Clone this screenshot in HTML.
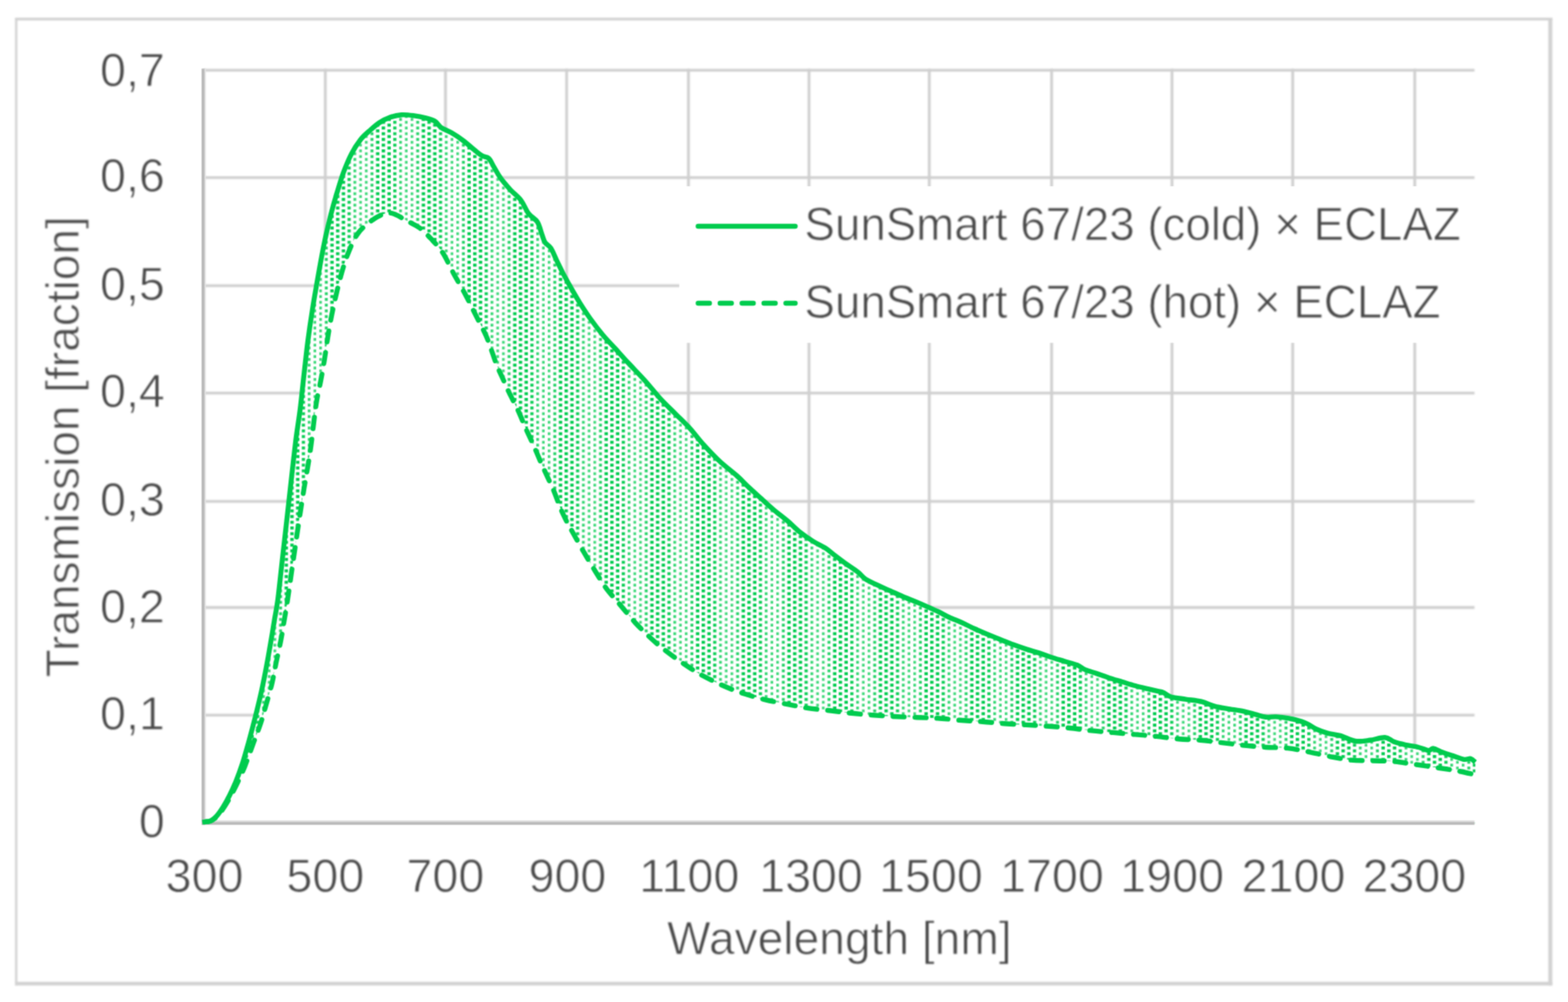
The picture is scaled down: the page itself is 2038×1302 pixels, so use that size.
<!DOCTYPE html>
<html lang="en"><head><meta charset="utf-8"><title>Transmission vs wavelength</title>
<style>
html,body{margin:0;padding:0;background:#fff;}
body{width:2038px;height:1302px;overflow:hidden;}
svg{display:block;font-family:"Liberation Sans",sans-serif;font-size:60.6px;fill:#484848;}
text{stroke:#fff;stroke-width:1.0px;stroke-linejoin:round;}
</style></head><body>
<svg width="2038" height="1302" viewBox="0 0 2038 1302">
<defs>
<filter id="soft" x="0" y="0" width="100%" height="100%" filterUnits="userSpaceOnUse" color-interpolation-filters="sRGB"><feGaussianBlur stdDeviation="0.9"/></filter>
<filter id="conv" x="0" y="0" width="100%" height="100%" filterUnits="userSpaceOnUse" color-interpolation-filters="sRGB"><feConvolveMatrix order="3" kernelMatrix="0.04000 0.12000 0.04000 0.12000 0.36000 0.12000 0.04000 0.12000 0.04000" edgeMode="duplicate" preserveAlpha="false"/></filter>
<pattern id="dots" x="12.0" y="0" width="59.400" height="7.425" patternUnits="userSpaceOnUse">
<rect x="0" y="0" width="59.400" height="7.425" fill="#fff"/>
<rect x="1.51" y="-2.67" width="4.40" height="3.90" fill="#00cc4e" fill-opacity="1.00"/>
<rect x="1.51" y="4.75" width="4.40" height="3.90" fill="#00cc4e" fill-opacity="1.00"/>
<rect x="8.94" y="1.04" width="4.40" height="3.90" fill="#00cc4e" fill-opacity="1.00"/>
<rect x="16.36" y="-2.67" width="4.40" height="3.90" fill="#00cc4e" fill-opacity="1.00"/>
<rect x="16.36" y="4.75" width="4.40" height="3.90" fill="#00cc4e" fill-opacity="1.00"/>
<rect x="23.90" y="1.07" width="4.17" height="3.84" fill="#00cc4e" fill-opacity="0.94"/>
<rect x="31.62" y="-2.56" width="3.58" height="3.68" fill="#00cc4e" fill-opacity="0.79"/>
<rect x="31.62" y="4.86" width="3.58" height="3.68" fill="#00cc4e" fill-opacity="0.79"/>
<rect x="39.12" y="1.17" width="3.42" height="3.64" fill="#00cc4e" fill-opacity="0.75"/>
<rect x="46.55" y="-2.54" width="3.42" height="3.64" fill="#00cc4e" fill-opacity="0.75"/>
<rect x="46.55" y="4.88" width="3.42" height="3.64" fill="#00cc4e" fill-opacity="0.75"/>
<rect x="53.79" y="1.12" width="3.80" height="3.74" fill="#00cc4e" fill-opacity="0.85"/>
</pattern>
</defs>
<rect x="0" y="0" width="2038" height="1302" fill="#fff"/>
<g filter="url(#soft)">
<line x1="21.1" y1="23" x2="21.1" y2="1280.6" stroke="#d2d2d2" stroke-width="3.0"/>
<line x1="19.8" y1="24.8" x2="2017.6" y2="24.8" stroke="#d2d2d2" stroke-width="3.6"/>
<line x1="2015" y1="23" x2="2015" y2="1280.6" stroke="#d2d2d2" stroke-width="5.2"/>
<line x1="19.8" y1="1278.2" x2="2017.6" y2="1278.2" stroke="#d2d2d2" stroke-width="4.8"/>
<g stroke="#cfcfcf" stroke-width="3.6" fill="none">
<line x1="264.3" y1="929.2" x2="1916.5" y2="929.2"/>
<line x1="264.3" y1="789.4" x2="1916.5" y2="789.4"/>
<line x1="264.3" y1="651.5" x2="1916.5" y2="651.5"/>
<line x1="264.3" y1="510.8" x2="1916.5" y2="510.8"/>
<line x1="264.3" y1="371.2" x2="1916.5" y2="371.2"/>
<line x1="264.3" y1="230.8" x2="1916.5" y2="230.8"/>
<line x1="264.3" y1="91.3" x2="1916.5" y2="91.3"/>
<line x1="422.8" y1="89.3" x2="422.8" y2="1069.6"/>
<line x1="579.0" y1="89.3" x2="579.0" y2="1069.6"/>
<line x1="736.5" y1="89.3" x2="736.5" y2="1069.6"/>
<line x1="894.8" y1="89.3" x2="894.8" y2="1069.6"/>
<line x1="1051.5" y1="89.3" x2="1051.5" y2="1069.6"/>
<line x1="1207.8" y1="89.3" x2="1207.8" y2="1069.6"/>
<line x1="1366.8" y1="89.3" x2="1366.8" y2="1069.6"/>
<line x1="1523.3" y1="89.3" x2="1523.3" y2="1069.6"/>
<line x1="1680.2" y1="89.3" x2="1680.2" y2="1069.6"/>
<line x1="1838.8" y1="89.3" x2="1838.8" y2="1069.6"/>
</g>
</g>
<g filter="url(#conv)">
<path d="M263.0 1068.3C264.7 1068.0 270.3 1068.1 273.4 1066.8C276.5 1065.5 278.9 1063.2 281.7 1060.2C284.5 1057.2 287.3 1053.0 290.1 1048.5C292.9 1044.0 295.6 1039.1 298.4 1033.5C301.2 1027.9 303.9 1022.0 306.7 1015.1C309.5 1008.2 312.3 1000.6 315.1 992.0C317.9 983.4 320.6 973.5 323.4 963.5C326.2 953.5 329.0 942.9 331.8 931.8C334.6 920.7 337.6 908.4 340.1 897.0C342.6 885.6 344.9 873.7 346.8 863.4C348.8 853.1 350.1 844.8 351.8 835.1C353.5 825.4 355.3 814.2 356.8 805.0C358.3 795.8 359.3 792.8 361.0 780.0C362.7 767.2 364.7 746.8 366.8 728.5C368.9 710.2 371.5 687.3 373.4 670.1C375.3 652.9 376.6 641.2 378.4 625.1C380.2 609.0 382.4 588.8 384.3 573.3C386.2 557.8 388.3 546.4 390.1 532.0C391.9 517.6 393.4 501.6 395.1 486.8C396.8 472.1 398.3 457.4 400.1 443.5C401.9 429.6 403.9 415.9 405.9 403.4C407.8 390.9 409.9 379.3 411.8 368.4C413.7 357.5 415.3 348.2 417.2 338.0C419.1 327.8 421.2 316.8 423.4 306.9C425.5 297.0 427.7 287.7 430.1 278.5C432.5 269.3 434.8 261.0 437.6 251.8C440.4 242.6 443.5 232.0 446.7 223.4C449.9 214.8 453.1 207.1 456.7 200.1C460.3 193.1 464.5 186.7 468.4 181.7C472.3 176.7 475.9 173.8 480.1 170.1C484.3 166.3 488.9 162.1 493.4 159.2C497.8 156.3 502.1 154.2 506.8 152.5C511.5 150.8 516.5 149.5 521.8 149.2C527.1 148.8 533.2 149.7 538.5 150.4C543.8 151.1 549.0 152.2 553.5 153.4C558.0 154.6 561.9 155.4 565.2 157.5C568.5 159.6 569.9 163.4 573.5 165.9C577.1 168.4 582.2 169.8 586.9 172.6C591.6 175.4 596.9 178.8 601.9 182.6C606.9 186.3 612.7 191.8 616.9 195.1C621.1 198.4 623.8 200.8 626.9 202.6C630.0 204.4 632.8 203.5 635.3 205.9C637.8 208.3 639.4 212.6 641.9 216.8C644.4 221.0 646.7 225.9 650.3 230.9C653.9 235.9 659.1 241.9 663.6 246.8C668.1 251.7 673.1 255.0 677.0 260.1C680.9 265.2 683.4 272.8 687.0 277.5C690.6 282.2 695.6 283.9 698.5 288.4C701.4 292.9 702.6 299.9 704.3 304.3C705.9 308.7 706.4 311.9 708.4 315.0C710.4 318.1 713.5 318.7 716.0 322.6C718.5 326.5 720.9 333.0 723.5 338.4C726.1 343.8 728.8 349.3 731.8 355.1C734.8 360.9 738.2 367.0 741.8 373.4C745.4 379.8 749.3 386.7 753.5 393.4C757.7 400.1 761.8 406.5 766.8 413.5C771.8 420.5 777.9 428.5 783.5 435.2C789.1 441.9 794.7 447.4 800.2 453.5C805.7 459.6 810.2 464.7 816.5 471.5C822.8 478.3 831.0 486.5 838.0 494.3C845.0 502.1 851.8 511.0 858.6 518.4C865.4 525.8 872.2 532.0 878.6 538.4C885.0 544.8 891.1 550.4 896.9 556.8C902.7 563.2 907.2 569.8 913.6 576.8C920.0 583.8 927.7 592.1 935.0 599.0C942.3 605.9 951.1 612.3 957.5 618.0C963.9 623.7 968.0 628.3 973.4 633.4C978.8 638.5 984.5 643.4 990.0 648.4C995.5 653.4 1001.1 658.7 1006.7 663.4C1012.3 668.1 1017.8 672.1 1023.4 676.8C1029.0 681.5 1034.5 687.4 1040.1 691.8C1045.7 696.2 1051.2 699.9 1056.8 703.4C1062.4 706.9 1068.8 709.5 1073.5 712.6C1078.2 715.7 1080.9 718.6 1085.1 721.8C1089.3 725.0 1093.5 728.2 1098.5 731.8C1103.5 735.4 1110.8 740.0 1115.2 743.5C1119.7 747.0 1121.0 749.9 1125.2 752.7C1129.4 755.5 1134.9 757.7 1140.2 760.2C1145.5 762.7 1151.3 765.2 1156.9 767.7C1162.5 770.2 1168.0 772.8 1173.6 775.2C1179.2 777.6 1185.3 779.8 1190.3 781.9C1195.3 784.0 1198.5 785.4 1203.5 787.6C1208.5 789.8 1215.0 792.6 1220.0 795.0C1225.0 797.4 1228.4 799.7 1233.4 802.0C1238.4 804.3 1244.5 806.5 1250.1 809.0C1255.6 811.5 1261.2 814.5 1266.7 817.0C1272.2 819.5 1277.8 821.9 1283.4 824.2C1289.0 826.5 1294.5 828.7 1300.1 830.9C1305.7 833.1 1311.2 835.5 1316.8 837.6C1322.4 839.7 1327.9 841.6 1333.5 843.4C1339.1 845.2 1344.7 846.6 1350.2 848.4C1355.8 850.2 1361.2 852.5 1366.8 854.3C1372.3 856.1 1377.9 857.6 1383.5 859.3C1389.1 861.0 1395.8 862.5 1400.2 864.3C1404.7 866.1 1406.0 868.3 1410.2 870.1C1414.4 871.9 1419.9 873.3 1425.2 875.1C1430.5 876.9 1436.3 879.2 1441.9 881.0C1447.5 882.8 1453.0 884.3 1458.6 886.0C1464.2 887.7 1469.7 889.5 1475.3 891.0C1480.9 892.5 1487.0 893.9 1492.0 895.1C1497.0 896.3 1501.7 897.4 1505.0 898.2C1508.3 899.0 1509.2 898.8 1512.0 900.0C1514.8 901.2 1517.2 904.1 1522.0 905.5C1526.8 906.9 1534.4 907.6 1541.0 908.6C1547.6 909.6 1555.5 910.2 1561.7 911.7C1567.9 913.2 1572.8 916.1 1578.4 917.6C1584.0 919.1 1588.7 919.8 1595.1 920.9C1601.5 922.0 1610.7 923.0 1616.8 924.3C1622.9 925.5 1627.1 927.1 1631.8 928.4C1636.5 929.6 1640.6 931.3 1645.1 931.8C1649.5 932.3 1653.5 931.1 1658.5 931.4C1663.5 931.7 1669.6 932.4 1675.2 933.4C1680.8 934.4 1687.8 936.3 1691.9 937.6C1696.0 938.9 1696.8 939.4 1700.0 941.0C1703.2 942.6 1706.8 945.6 1711.0 947.5C1715.2 949.4 1720.0 951.2 1725.2 952.6C1730.4 954.0 1735.9 954.2 1741.9 955.9C1748.0 957.6 1755.0 962.0 1761.5 963.0C1768.0 964.0 1774.4 962.6 1780.8 961.8C1787.2 961.0 1794.8 957.9 1800.0 958.2C1805.2 958.5 1807.3 962.2 1811.7 963.8C1816.1 965.4 1821.5 966.7 1826.5 967.8C1831.5 968.9 1837.0 969.3 1842.0 970.5C1847.0 971.7 1853.0 974.8 1856.5 975.1C1860.0 975.5 1860.2 972.2 1863.2 972.6C1866.2 973.0 1870.3 975.9 1874.8 977.6C1879.2 979.3 1885.2 981.1 1889.9 982.6C1894.6 984.1 1899.6 986.2 1903.2 986.8C1906.8 987.3 1909.1 985.3 1911.5 985.9C1913.9 986.5 1916.5 989.7 1917.5 990.5L1917.5 1069.6L264.3 1069.6Z" fill="url(#dots)"/>
<path d="M263.0 1068.3C264.8 1068.1 270.4 1068.2 273.6 1066.9C276.8 1065.6 279.4 1063.6 282.4 1060.6C285.4 1057.6 288.4 1053.3 291.4 1048.8C294.4 1044.3 297.4 1039.1 300.4 1033.5C303.4 1027.9 306.6 1021.5 309.6 1015.1C312.6 1008.7 315.0 1003.8 318.4 995.2C321.8 986.6 326.8 972.5 330.1 963.5C333.4 954.5 335.9 948.5 338.4 941.0C340.9 933.5 342.6 927.3 345.1 918.5C347.6 909.7 351.2 897.6 353.4 888.4C355.6 879.2 356.4 873.0 358.4 863.5C360.3 854.0 363.3 841.2 365.1 831.7C366.9 822.2 367.9 815.2 369.3 806.7C370.7 798.2 371.4 794.9 373.5 781.0C375.6 767.1 379.3 740.6 381.8 723.5C384.3 706.4 386.2 693.1 388.4 678.4C390.6 663.7 393.2 647.2 395.1 635.1C397.1 623.0 398.6 615.5 400.1 606.0C401.6 596.5 402.5 591.8 404.3 578.3C406.1 564.8 408.8 539.1 410.9 525.2C413.0 511.4 415.0 504.9 416.8 495.2C418.6 485.5 420.3 476.2 421.8 466.8C423.3 457.4 424.5 447.9 426.0 438.5C427.5 429.1 429.2 419.3 431.0 410.1C432.8 400.9 434.7 392.3 436.8 383.4C438.9 374.5 440.9 365.8 443.5 356.7C446.1 347.6 448.9 337.9 452.5 329.0C456.1 320.1 459.7 310.8 465.1 303.5C470.5 296.2 478.2 289.6 485.1 285.2C492.1 280.8 499.3 276.4 506.8 276.8C514.3 277.2 523.7 284.5 530.1 287.7C536.5 290.9 540.2 292.2 545.2 296.0C550.2 299.8 555.2 304.8 560.2 310.2C565.2 315.6 570.5 320.8 575.5 328.5C580.5 336.2 585.3 347.6 590.3 356.7C595.3 365.8 600.6 374.5 605.3 383.4C610.0 392.3 614.2 401.2 618.7 410.1C623.2 419.0 628.5 428.7 632.0 436.8C635.5 444.9 637.7 452.1 640.0 458.5C642.3 464.9 643.7 469.5 645.9 475.0C648.1 480.5 650.8 485.9 653.4 491.7C656.0 497.5 658.4 503.1 661.7 510.0C665.0 517.0 669.8 525.6 673.4 533.4C677.0 541.2 680.1 549.3 683.4 556.8C686.7 564.3 690.1 570.9 693.4 578.4C696.7 585.9 700.3 594.8 703.4 601.8C706.5 608.8 709.0 614.1 711.8 620.2C714.6 626.3 717.3 631.8 720.1 638.5C722.9 645.2 725.7 653.7 728.4 660.2C731.1 666.7 734.0 672.5 736.5 677.5C739.0 682.5 739.8 683.5 743.4 690.0C747.0 696.5 753.4 708.1 758.4 716.7C763.4 725.3 768.4 733.6 773.4 741.7C778.4 749.8 782.8 757.6 788.4 765.1C794.0 772.6 800.7 779.6 806.8 786.8C812.9 794.0 818.7 801.5 825.1 808.5C831.5 815.5 838.2 822.1 845.1 828.5C852.0 834.9 859.3 841.0 866.8 846.8C874.3 852.6 882.6 858.4 890.2 863.5C897.8 868.6 903.9 872.8 912.5 877.5C921.1 882.2 932.4 887.8 941.7 891.8C951.0 895.8 959.5 898.9 968.4 901.8C977.3 904.7 985.9 907.1 995.1 909.3C1004.3 911.5 1014.3 913.3 1023.5 915.1C1032.7 916.9 1040.8 918.7 1050.2 920.1C1059.7 921.5 1070.8 922.4 1080.2 923.5C1089.7 924.6 1097.7 925.8 1106.9 926.8C1116.1 927.8 1126.0 928.6 1135.2 929.3C1144.4 930.0 1152.4 930.5 1161.9 931.0C1171.4 931.5 1182.5 931.8 1192.0 932.2C1201.5 932.6 1208.9 932.7 1218.6 933.3C1228.3 933.9 1240.3 935.3 1250.0 936.0C1259.7 936.7 1267.5 937.0 1276.7 937.7C1285.9 938.4 1295.6 939.5 1305.1 940.2C1314.6 940.9 1324.3 941.4 1333.5 941.9C1342.7 942.4 1350.8 942.8 1360.2 943.5C1369.7 944.2 1380.5 945.0 1390.2 946.0C1399.9 947.0 1409.1 948.4 1418.6 949.4C1428.0 950.4 1437.5 951.1 1446.9 951.9C1456.4 952.7 1465.8 953.6 1475.3 954.4C1484.8 955.2 1494.1 955.9 1503.6 956.9C1513.0 957.9 1522.6 959.4 1532.0 960.2C1541.4 961.0 1550.6 961.0 1560.0 961.8C1569.4 962.6 1578.9 964.0 1588.4 965.1C1597.9 966.2 1607.3 967.5 1616.8 968.5C1626.2 969.5 1635.6 970.4 1645.1 971.0C1654.5 971.6 1664.3 971.1 1673.5 972.1C1682.7 973.1 1691.3 975.0 1700.2 976.8C1709.1 978.5 1717.7 980.8 1726.9 982.6C1736.1 984.4 1745.8 986.6 1755.3 987.6C1764.8 988.6 1774.4 988.2 1783.6 988.5C1792.8 988.8 1801.7 988.6 1810.3 989.3C1818.9 990.0 1825.6 991.3 1835.3 992.7C1845.0 994.1 1858.3 996.1 1868.2 997.6C1878.1 999.1 1886.7 1000.3 1894.9 1001.8C1903.1 1003.3 1913.7 1006.0 1917.5 1006.8L1922.5 1006.8L1922.5 1069.6L264.3 1069.6Z" fill="#fff"/>
<rect x="882.8" y="242" width="1045" height="203.5" fill="#fff"/>
<line x1="266.1" y1="89.3" x2="266.1" y2="1071.6" stroke="#e2e2e2" stroke-width="3"/>
<line x1="262.3" y1="1067.4" x2="1916.5" y2="1067.4" stroke="#dedede" stroke-width="3"/>
<line x1="263.9" y1="89.3" x2="263.9" y2="1071.8" stroke="#b9b9b9" stroke-width="3.7"/>
<line x1="262.1" y1="1070.0" x2="1916.5" y2="1070.0" stroke="#b9b9b9" stroke-width="3.7"/>
<path d="M266.4 1067.9C267.6 1067.7 270.9 1068.1 273.6 1066.9C276.3 1065.7 279.4 1063.6 282.4 1060.6C285.4 1057.6 288.4 1053.3 291.4 1048.8C294.4 1044.3 297.4 1039.1 300.4 1033.5C303.4 1027.9 306.6 1021.5 309.6 1015.1C312.6 1008.7 315.0 1003.8 318.4 995.2C321.8 986.6 326.8 972.5 330.1 963.5C333.4 954.5 335.9 948.5 338.4 941.0C340.9 933.5 342.6 927.3 345.1 918.5C347.6 909.7 351.2 897.6 353.4 888.4C355.6 879.2 356.4 873.0 358.4 863.5C360.3 854.0 363.3 841.2 365.1 831.7C366.9 822.2 367.9 815.2 369.3 806.7C370.7 798.2 371.4 794.9 373.5 781.0C375.6 767.1 379.3 740.6 381.8 723.5C384.3 706.4 386.2 693.1 388.4 678.4C390.6 663.7 393.2 647.2 395.1 635.1C397.1 623.0 398.6 615.5 400.1 606.0C401.6 596.5 402.5 591.8 404.3 578.3C406.1 564.8 408.8 539.1 410.9 525.2C413.0 511.4 415.0 504.9 416.8 495.2C418.6 485.5 420.3 476.2 421.8 466.8C423.3 457.4 424.5 447.9 426.0 438.5C427.5 429.1 429.2 419.3 431.0 410.1C432.8 400.9 434.7 392.3 436.8 383.4C438.9 374.5 440.9 365.8 443.5 356.7C446.1 347.6 448.9 337.9 452.5 329.0C456.1 320.1 459.7 310.8 465.1 303.5C470.5 296.2 478.2 289.6 485.1 285.2C492.1 280.8 499.3 276.4 506.8 276.8C514.3 277.2 523.7 284.5 530.1 287.7C536.5 290.9 540.2 292.2 545.2 296.0C550.2 299.8 555.2 304.8 560.2 310.2C565.2 315.6 570.5 320.8 575.5 328.5C580.5 336.2 585.3 347.6 590.3 356.7C595.3 365.8 600.6 374.5 605.3 383.4C610.0 392.3 614.2 401.2 618.7 410.1C623.2 419.0 628.5 428.7 632.0 436.8C635.5 444.9 637.7 452.1 640.0 458.5C642.3 464.9 643.7 469.5 645.9 475.0C648.1 480.5 650.8 485.9 653.4 491.7C656.0 497.5 658.4 503.1 661.7 510.0C665.0 517.0 669.8 525.6 673.4 533.4C677.0 541.2 680.1 549.3 683.4 556.8C686.7 564.3 690.1 570.9 693.4 578.4C696.7 585.9 700.3 594.8 703.4 601.8C706.5 608.8 709.0 614.1 711.8 620.2C714.6 626.3 717.3 631.8 720.1 638.5C722.9 645.2 725.7 653.7 728.4 660.2C731.1 666.7 734.0 672.5 736.5 677.5C739.0 682.5 739.8 683.5 743.4 690.0C747.0 696.5 753.4 708.1 758.4 716.7C763.4 725.3 768.4 733.6 773.4 741.7C778.4 749.8 782.8 757.6 788.4 765.1C794.0 772.6 800.7 779.6 806.8 786.8C812.9 794.0 818.7 801.5 825.1 808.5C831.5 815.5 838.2 822.1 845.1 828.5C852.0 834.9 859.3 841.0 866.8 846.8C874.3 852.6 882.6 858.4 890.2 863.5C897.8 868.6 903.9 872.8 912.5 877.5C921.1 882.2 932.4 887.8 941.7 891.8C951.0 895.8 959.5 898.9 968.4 901.8C977.3 904.7 985.9 907.1 995.1 909.3C1004.3 911.5 1014.3 913.3 1023.5 915.1C1032.7 916.9 1040.8 918.7 1050.2 920.1C1059.7 921.5 1070.8 922.4 1080.2 923.5C1089.7 924.6 1097.7 925.8 1106.9 926.8C1116.1 927.8 1126.0 928.6 1135.2 929.3C1144.4 930.0 1152.4 930.5 1161.9 931.0C1171.4 931.5 1182.5 931.8 1192.0 932.2C1201.5 932.6 1208.9 932.7 1218.6 933.3C1228.3 933.9 1240.3 935.3 1250.0 936.0C1259.7 936.7 1267.5 937.0 1276.7 937.7C1285.9 938.4 1295.6 939.5 1305.1 940.2C1314.6 940.9 1324.3 941.4 1333.5 941.9C1342.7 942.4 1350.8 942.8 1360.2 943.5C1369.7 944.2 1380.5 945.0 1390.2 946.0C1399.9 947.0 1409.1 948.4 1418.6 949.4C1428.0 950.4 1437.5 951.1 1446.9 951.9C1456.4 952.7 1465.8 953.6 1475.3 954.4C1484.8 955.2 1494.1 955.9 1503.6 956.9C1513.0 957.9 1522.6 959.4 1532.0 960.2C1541.4 961.0 1550.6 961.0 1560.0 961.8C1569.4 962.6 1578.9 964.0 1588.4 965.1C1597.9 966.2 1607.3 967.5 1616.8 968.5C1626.2 969.5 1635.6 970.4 1645.1 971.0C1654.5 971.6 1664.3 971.1 1673.5 972.1C1682.7 973.1 1691.3 975.0 1700.2 976.8C1709.1 978.5 1717.7 980.8 1726.9 982.6C1736.1 984.4 1745.8 986.6 1755.3 987.6C1764.8 988.6 1774.4 988.2 1783.6 988.5C1792.8 988.8 1801.7 988.6 1810.3 989.3C1818.9 990.0 1825.6 991.3 1835.3 992.7C1845.0 994.1 1858.3 996.1 1868.2 997.6C1878.1 999.1 1886.7 1000.3 1894.9 1001.8C1903.1 1003.3 1913.7 1006.0 1917.5 1006.8" fill="none" stroke="#00cc4e" stroke-width="6.4" stroke-dasharray="14.6 13.9" stroke-dashoffset="0" stroke-linecap="round" stroke-linejoin="round"/>
<path d="M263.0 1068.3C264.7 1068.0 270.3 1068.1 273.4 1066.8C276.5 1065.5 278.9 1063.2 281.7 1060.2C284.5 1057.2 287.3 1053.0 290.1 1048.5C292.9 1044.0 295.6 1039.1 298.4 1033.5C301.2 1027.9 303.9 1022.0 306.7 1015.1C309.5 1008.2 312.3 1000.6 315.1 992.0C317.9 983.4 320.6 973.5 323.4 963.5C326.2 953.5 329.0 942.9 331.8 931.8C334.6 920.7 337.6 908.4 340.1 897.0C342.6 885.6 344.9 873.7 346.8 863.4C348.8 853.1 350.1 844.8 351.8 835.1C353.5 825.4 355.3 814.2 356.8 805.0C358.3 795.8 359.3 792.8 361.0 780.0C362.7 767.2 364.7 746.8 366.8 728.5C368.9 710.2 371.5 687.3 373.4 670.1C375.3 652.9 376.6 641.2 378.4 625.1C380.2 609.0 382.4 588.8 384.3 573.3C386.2 557.8 388.3 546.4 390.1 532.0C391.9 517.6 393.4 501.6 395.1 486.8C396.8 472.1 398.3 457.4 400.1 443.5C401.9 429.6 403.9 415.9 405.9 403.4C407.8 390.9 409.9 379.3 411.8 368.4C413.7 357.5 415.3 348.2 417.2 338.0C419.1 327.8 421.2 316.8 423.4 306.9C425.5 297.0 427.7 287.7 430.1 278.5C432.5 269.3 434.8 261.0 437.6 251.8C440.4 242.6 443.5 232.0 446.7 223.4C449.9 214.8 453.1 207.1 456.7 200.1C460.3 193.1 464.5 186.7 468.4 181.7C472.3 176.7 475.9 173.8 480.1 170.1C484.3 166.3 488.9 162.1 493.4 159.2C497.8 156.3 502.1 154.2 506.8 152.5C511.5 150.8 516.5 149.5 521.8 149.2C527.1 148.8 533.2 149.7 538.5 150.4C543.8 151.1 549.0 152.2 553.5 153.4C558.0 154.6 561.9 155.4 565.2 157.5C568.5 159.6 569.9 163.4 573.5 165.9C577.1 168.4 582.2 169.8 586.9 172.6C591.6 175.4 596.9 178.8 601.9 182.6C606.9 186.3 612.7 191.8 616.9 195.1C621.1 198.4 623.8 200.8 626.9 202.6C630.0 204.4 632.8 203.5 635.3 205.9C637.8 208.3 639.4 212.6 641.9 216.8C644.4 221.0 646.7 225.9 650.3 230.9C653.9 235.9 659.1 241.9 663.6 246.8C668.1 251.7 673.1 255.0 677.0 260.1C680.9 265.2 683.4 272.8 687.0 277.5C690.6 282.2 695.6 283.9 698.5 288.4C701.4 292.9 702.6 299.9 704.3 304.3C705.9 308.7 706.4 311.9 708.4 315.0C710.4 318.1 713.5 318.7 716.0 322.6C718.5 326.5 720.9 333.0 723.5 338.4C726.1 343.8 728.8 349.3 731.8 355.1C734.8 360.9 738.2 367.0 741.8 373.4C745.4 379.8 749.3 386.7 753.5 393.4C757.7 400.1 761.8 406.5 766.8 413.5C771.8 420.5 777.9 428.5 783.5 435.2C789.1 441.9 794.7 447.4 800.2 453.5C805.7 459.6 810.2 464.7 816.5 471.5C822.8 478.3 831.0 486.5 838.0 494.3C845.0 502.1 851.8 511.0 858.6 518.4C865.4 525.8 872.2 532.0 878.6 538.4C885.0 544.8 891.1 550.4 896.9 556.8C902.7 563.2 907.2 569.8 913.6 576.8C920.0 583.8 927.7 592.1 935.0 599.0C942.3 605.9 951.1 612.3 957.5 618.0C963.9 623.7 968.0 628.3 973.4 633.4C978.8 638.5 984.5 643.4 990.0 648.4C995.5 653.4 1001.1 658.7 1006.7 663.4C1012.3 668.1 1017.8 672.1 1023.4 676.8C1029.0 681.5 1034.5 687.4 1040.1 691.8C1045.7 696.2 1051.2 699.9 1056.8 703.4C1062.4 706.9 1068.8 709.5 1073.5 712.6C1078.2 715.7 1080.9 718.6 1085.1 721.8C1089.3 725.0 1093.5 728.2 1098.5 731.8C1103.5 735.4 1110.8 740.0 1115.2 743.5C1119.7 747.0 1121.0 749.9 1125.2 752.7C1129.4 755.5 1134.9 757.7 1140.2 760.2C1145.5 762.7 1151.3 765.2 1156.9 767.7C1162.5 770.2 1168.0 772.8 1173.6 775.2C1179.2 777.6 1185.3 779.8 1190.3 781.9C1195.3 784.0 1198.5 785.4 1203.5 787.6C1208.5 789.8 1215.0 792.6 1220.0 795.0C1225.0 797.4 1228.4 799.7 1233.4 802.0C1238.4 804.3 1244.5 806.5 1250.1 809.0C1255.6 811.5 1261.2 814.5 1266.7 817.0C1272.2 819.5 1277.8 821.9 1283.4 824.2C1289.0 826.5 1294.5 828.7 1300.1 830.9C1305.7 833.1 1311.2 835.5 1316.8 837.6C1322.4 839.7 1327.9 841.6 1333.5 843.4C1339.1 845.2 1344.7 846.6 1350.2 848.4C1355.8 850.2 1361.2 852.5 1366.8 854.3C1372.3 856.1 1377.9 857.6 1383.5 859.3C1389.1 861.0 1395.8 862.5 1400.2 864.3C1404.7 866.1 1406.0 868.3 1410.2 870.1C1414.4 871.9 1419.9 873.3 1425.2 875.1C1430.5 876.9 1436.3 879.2 1441.9 881.0C1447.5 882.8 1453.0 884.3 1458.6 886.0C1464.2 887.7 1469.7 889.5 1475.3 891.0C1480.9 892.5 1487.0 893.9 1492.0 895.1C1497.0 896.3 1501.7 897.4 1505.0 898.2C1508.3 899.0 1509.2 898.8 1512.0 900.0C1514.8 901.2 1517.2 904.1 1522.0 905.5C1526.8 906.9 1534.4 907.6 1541.0 908.6C1547.6 909.6 1555.5 910.2 1561.7 911.7C1567.9 913.2 1572.8 916.1 1578.4 917.6C1584.0 919.1 1588.7 919.8 1595.1 920.9C1601.5 922.0 1610.7 923.0 1616.8 924.3C1622.9 925.5 1627.1 927.1 1631.8 928.4C1636.5 929.6 1640.6 931.3 1645.1 931.8C1649.5 932.3 1653.5 931.1 1658.5 931.4C1663.5 931.7 1669.6 932.4 1675.2 933.4C1680.8 934.4 1687.8 936.3 1691.9 937.6C1696.0 938.9 1696.8 939.4 1700.0 941.0C1703.2 942.6 1706.8 945.6 1711.0 947.5C1715.2 949.4 1720.0 951.2 1725.2 952.6C1730.4 954.0 1735.9 954.2 1741.9 955.9C1748.0 957.6 1755.0 962.0 1761.5 963.0C1768.0 964.0 1774.4 962.6 1780.8 961.8C1787.2 961.0 1794.8 957.9 1800.0 958.2C1805.2 958.5 1807.3 962.2 1811.7 963.8C1816.1 965.4 1821.5 966.7 1826.5 967.8C1831.5 968.9 1837.0 969.3 1842.0 970.5C1847.0 971.7 1853.0 974.8 1856.5 975.1C1860.0 975.5 1860.2 972.2 1863.2 972.6C1866.2 973.0 1870.3 975.9 1874.8 977.6C1879.2 979.3 1885.2 981.1 1889.9 982.6C1894.6 984.1 1899.6 986.2 1903.2 986.8C1906.8 987.3 1909.1 985.3 1911.5 985.9C1913.9 986.5 1916.5 989.7 1917.5 990.5" fill="none" stroke="#00cc4e" stroke-width="6.4" stroke-linecap="butt" stroke-linejoin="round"/>
<line x1="907.5" y1="294" x2="1033.5" y2="294" stroke="#00cc4e" stroke-width="6.6" stroke-linecap="round"/>
<line x1="907.5" y1="394" x2="1033.5" y2="394" stroke="#00cc4e" stroke-width="6.6" stroke-dasharray="14.6 13.9" stroke-linecap="round"/>
</g>
<g filter="url(#soft)">
<text transform="translate(1045.6 311.8) scale(0.98 1)">SunSmart 67/23 (cold) × ECLAZ</text>
<text transform="translate(1045.6 413.4) scale(0.98 1)">SunSmart 67/23 (hot) × ECLAZ</text>
<text x="214.2" y="1087.8" text-anchor="end">0</text>
<text x="214.2" y="948.0" text-anchor="end">0,1</text>
<text x="214.2" y="809.3" text-anchor="end">0,2</text>
<text x="214.2" y="669.5" text-anchor="end">0,3</text>
<text x="214.2" y="529.2" text-anchor="end">0,4</text>
<text x="214.2" y="389.6" text-anchor="end">0,5</text>
<text x="214.2" y="249.2" text-anchor="end">0,6</text>
<text x="214.2" y="111.9" text-anchor="end">0,7</text>
<text x="265.9" y="1158.8" text-anchor="middle">300</text>
<text x="422.9" y="1158.8" text-anchor="middle">500</text>
<text x="578.8" y="1158.8" text-anchor="middle">700</text>
<text x="737.5" y="1158.8" text-anchor="middle">900</text>
<text x="895.8" y="1158.8" text-anchor="middle">1100</text>
<text x="1054.1" y="1158.8" text-anchor="middle">1300</text>
<text x="1210.0" y="1158.8" text-anchor="middle">1500</text>
<text x="1367.3" y="1158.8" text-anchor="middle">1700</text>
<text x="1523.5" y="1158.8" text-anchor="middle">1900</text>
<text x="1681.2" y="1158.8" text-anchor="middle">2100</text>
<text x="1838.3" y="1158.8" text-anchor="middle">2300</text>
<text transform="translate(1090.9 1239.8) scale(0.99 1)" text-anchor="middle">Wavelength [nm]</text>
<text transform="translate(102.4 580.6) rotate(-90) scale(0.987 1)" text-anchor="middle">Transmission [fraction]</text>
</g>
</svg>
</body></html>
